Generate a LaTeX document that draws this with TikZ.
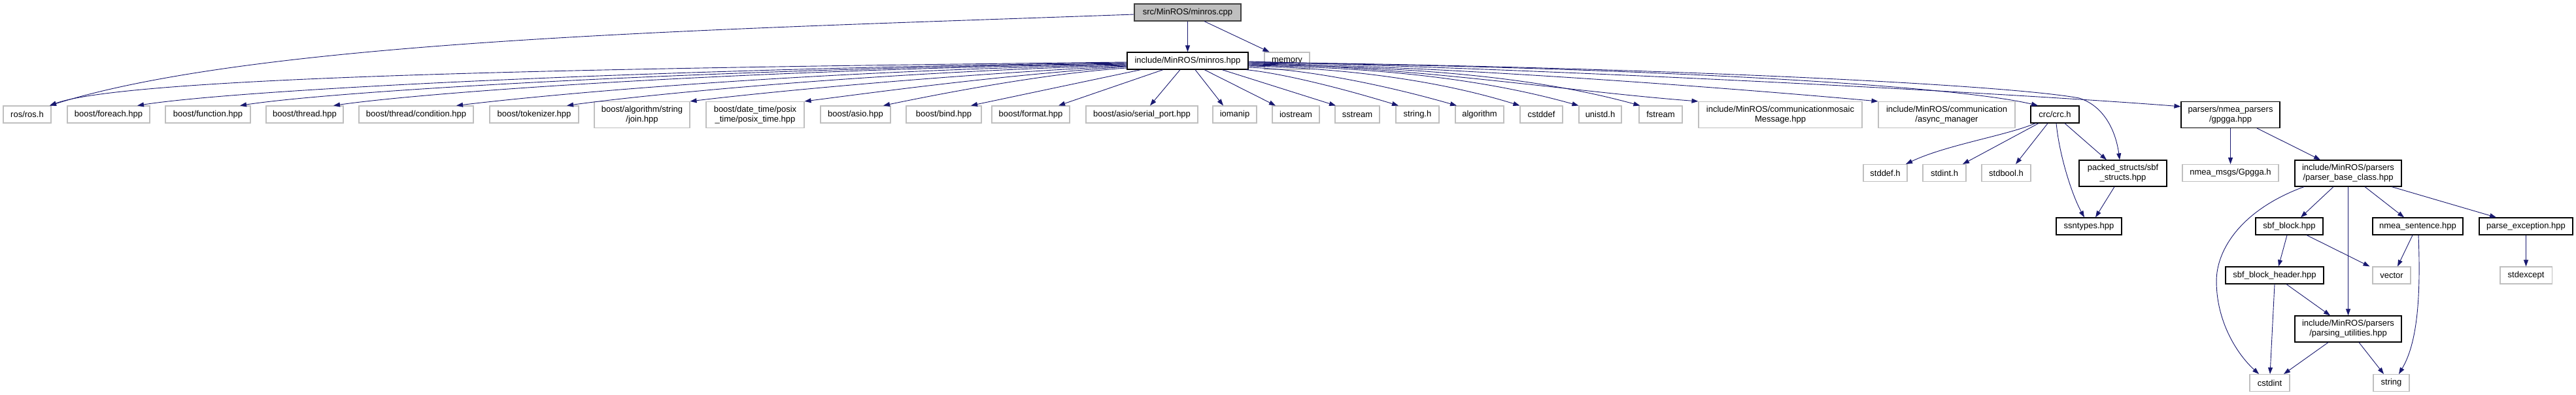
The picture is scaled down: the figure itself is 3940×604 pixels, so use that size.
\documentclass[tikz,border=0pt]{standalone}
\usepackage{fontspec}
\setmainfont{Liberation Sans}
\usetikzlibrary{arrows.meta,calc}
\definecolor{edgeblue}{HTML}{191970}
\definecolor{sysgrey}{HTML}{BFBFBF}
\definecolor{rootfill}{HTML}{BFBFBF}
\definecolor{rootline}{HTML}{404040}
\begin{document}
\begin{tikzpicture}[x=1pt,y=-1pt,
  nbox/.style={rectangle, inner sep=0pt, align=center, font=\fontsize{13}{15}\selectfont, minimum height=26pt},
  sysbox/.style={nbox, draw=sysgrey, line width=1.1pt},
  docbox/.style={nbox, draw=black, line width=1.2pt},
  rootbox/.style={nbox, draw=rootline, fill=rootfill, line width=1.2pt},
  dbl/.style={minimum height=40pt},
  edge/.style={draw=edgeblue, line width=0.9pt, -{Triangle[length=10pt,width=7pt]}}]
\fill[white] (0,0) rectangle (3940,604);
\useasboundingbox (0,0) rectangle (3940,604);
% rows 0-1
\node[rootbox, minimum width=163pt] (cpp) at (1816.5,19) {src/MinROS/minros.cpp};
\node[docbox, minimum width=185pt] (hpp) at (1816.5,93) {include/MinROS/minros.hpp};
\node[sysbox, minimum width=69pt] (memory) at (1968.5,93) {memory};
% row 2
\node[sysbox, minimum width=73pt] (ros) at (41.5,175) {ros/ros.h};
\node[sysbox, minimum width=126pt] (foreach) at (166,175) {boost/foreach.hpp};
\node[sysbox, minimum width=130pt] (function) at (318,175) {boost/function.hpp};
\node[sysbox, minimum width=118pt] (thread) at (466,175) {boost/thread.hpp};
\node[sysbox, minimum width=175pt] (condition) at (636.5,175) {boost/thread/condition.hpp};
\node[sysbox, minimum width=136pt] (tokenizer) at (817,175) {boost/tokenizer.hpp};
\node[sysbox, dbl, minimum width=146pt] (join) at (982,175.5) {boost/algorithm/string\\/join.hpp};
\node[sysbox, dbl, minimum width=150pt] (datetime) at (1155,175.5) {boost/date\_time/posix\\\_time/posix\_time.hpp};
\node[sysbox, minimum width=107pt] (asio) at (1308.5,175) {boost/asio.hpp};
\node[sysbox, minimum width=115pt] (bind) at (1443.5,175) {boost/bind.hpp};
\node[sysbox, minimum width=119pt] (format) at (1576.5,175) {boost/format.hpp};
\node[sysbox, minimum width=171pt] (serial) at (1746.5,175) {boost/asio/serial\_port.hpp};
\node[sysbox, minimum width=67pt] (iomanip) at (1888.5,175) {iomanip};
\node[sysbox, minimum width=72pt] (iostream) at (1982,175) {iostream};
\node[sysbox, minimum width=68pt] (sstream) at (2076,175) {sstream};
\node[sysbox, minimum width=66pt] (stringh) at (2168,175) {string.h};
\node[sysbox, minimum width=74pt] (algorithm) at (2263,175) {algorithm};
\node[sysbox, minimum width=65pt] (cstddef) at (2357.5,175) {cstddef};
\node[sysbox, minimum width=65pt] (unistd) at (2447.5,175) {unistd.h};
\node[sysbox, minimum width=66pt] (fstream) at (2540,175) {fstream};
\node[sysbox, dbl, minimum width=250pt] (commsg) at (2723,175.5) {include/MinROS/communicationmosaic\\Message.hpp};
\node[sysbox, dbl, minimum width=209pt] (async) at (2977.5,175.5) {include/MinROS/communication\\/async\_manager};
\node[docbox, minimum width=74pt] (crc) at (3143,175) {crc/crc.h};
\node[docbox, dbl, minimum width=151pt] (gpgga) at (3411.5,175.5) {parsers/nmea\_parsers\\/gpgga.hpp};
% row 3
\node[sysbox, minimum width=67pt] (stddef) at (2883.5,264.5) {stddef.h};
\node[sysbox, minimum width=66pt] (stdint) at (2974,264.5) {stdint.h};
\node[sysbox, minimum width=75pt] (stdbool) at (3068.5,264.5) {stdbool.h};
\node[docbox, dbl, minimum width=134pt] (packed) at (3247,265) {packed\_structs/sbf\\\_structs.hpp};
\node[sysbox, minimum width=147pt] (nmeamsgs) at (3411.5,264.5) {nmea\_msgs/Gpgga.h};
\node[docbox, dbl, minimum width=163pt] (pbc) at (3591.5,265) {include/MinROS/parsers\\/parser\_base\_class.hpp};
% row 4
\node[docbox, minimum width=100pt] (ssntypes) at (3195,346) {ssntypes.hpp};
\node[docbox, minimum width=103pt] (sbfblock) at (3501.5,346) {sbf\_block.hpp};
\node[docbox, minimum width=138pt] (nmeasent) at (3698,346) {nmea\_sentence.hpp};
\node[docbox, minimum width=143pt] (parseexc) at (3863.5,346) {parse\_exception.hpp};
% row 5
\node[docbox, minimum width=150pt] (sbfheader) at (3479,421) {sbf\_block\_header.hpp};
\node[sysbox, minimum width=58pt] (vector) at (3658,421) {vector};
\node[sysbox, minimum width=79pt] (stdexcept) at (3863.5,421) {stdexcept};
% row 6
\node[docbox, dbl, minimum width=163pt] (putil) at (3591.5,503) {include/MinROS/parsers\\/parsing\_utilities.hpp};
% row 7
\node[sysbox, minimum width=61pt] (cstdint) at (3471.5,585.5) {cstdint};
\node[sysbox, minimum width=55pt] (string) at (3657.5,585.5) {string};

% edges from cpp
\draw[edge] (cpp) -- (hpp);
\draw[edge] ($(cpp.south)+(25.5,0)$) -- ($(memory.north west)+(8,0)$);
\draw[edge] ($(cpp.west)+(0,3)$) .. controls (1100,45) and (400,60) .. ($(ros.north)+(34.5,0)$);

% edges from hpp to the left
\draw[edge] ($(hpp.west)+(0,2)$) .. controls (1000,103) and (200,115) .. ($(ros.north)+(34.5,0)$);
\draw[edge] ($(hpp.west)+(0,3)$) .. controls (1050,104) and (380,135) .. ($(foreach.north)+(44,0)$);
\draw[edge] ($(hpp.west)+(0,4)$) .. controls (1100,105) and (520,138) .. ($(function.north)+(49,0)$);
\draw[edge] ($(hpp.west)+(0,5)$) .. controls (1150,106) and (660,140) .. ($(thread.north)+(44,0)$);
\draw[edge] ($(hpp.west)+(0,6)$) .. controls (1250,108) and (860,142) .. ($(condition.north)+(61.5,0)$);
\draw[edge] ($(hpp.west)+(0,7)$) .. controls (1350,110) and (1000,143) .. ($(tokenizer.north)+(50,0)$);
\draw[edge] ($(hpp.west)+(0,8)$) .. controls (1450,114) and (1170,141) .. (join.north east);
\draw[edge] ($(hpp.west)+(0,9)$) .. controls (1520,116) and (1340,141) .. (datetime.north east);
\draw[edge] ($(hpp.west)+(0,11)$) .. controls (1600,112) and (1440,143) .. ($(asio.north)+(42.5,0)$);
% straight edges below hpp
\draw[edge] ($(hpp.south)+(-71.5,0)$) -- ($(bind.north)+(41.5,0)$);
\draw[edge] ($(hpp.south)+(-37.5,0)$) -- ($(format.north)+(42.5,0)$);
\draw[edge] ($(hpp.south)+(-11.5,0)$) -- ($(serial.north)+(12.5,0)$);
\draw[edge] ($(hpp.south)+(11.5,0)$) -- ($(iomanip.north)+(-17.5,0)$);
\draw[edge] ($(hpp.south)+(25.5,0)$) -- ($(iostream.north)+(-31,0)$);
\draw[edge] ($(hpp.south)+(52.5,0)$) -- ($(sstream.north)+(-33,0)$);
\draw[edge] ($(hpp.south east)+(-4,0)$) .. controls (1960,112) and (2049,134) .. ($(stringh.north)+(-29,0)$);
% edges from hpp to the right
\draw[edge] ($(hpp.east)+(0,10)$) .. controls (2000,106) and (2118,130) .. ($(algorithm.north)+(-35,0)$);
\draw[edge] ($(hpp.east)+(0,8)$) .. controls (2050,104) and (2194,121) .. (cstddef.north west);
\draw[edge] ($(hpp.east)+(0,7)$) .. controls (2100,103) and (2263,119) .. (unistd.north west);
\draw[edge] ($(hpp.east)+(0,6)$) .. controls (2150,102) and (2339,115) .. ($(fstream.north west)+(2,0)$);
\draw[edge] ($(hpp.east)+(0,5)$) .. controls (2150,100) and (2400,140) .. (commsg.north west);
\draw[edge] ($(hpp.east)+(0,4)$) .. controls (2200,100) and (2650,135) .. (async.north west);
\draw[edge] ($(hpp.east)+(0,3)$) .. controls (2400,100) and (2967,126) .. ($(crc.north)+(-26,0)$);
\draw[edge] ($(hpp.east)+(0,2)$) .. controls (2500,102) and (3060,128) .. (3180,150)
  .. controls (3218,162) and (3236,200) .. ($(packed.north)+(-5,0)$);
\draw[edge] ($(hpp.east)+(0,1)$) .. controls (2500,110) and (3150,148) .. ($(gpgga.north west)+(0,8)$);

% crc edges
\draw[edge] ($(crc.south)+(-30,0)$) .. controls (3070,207) and (2975,222) .. ($(stddef.north)+(31.5,0)$);
\draw[edge] ($(crc.south)+(-25,0)$) -- ($(stdint.north)+(28,0)$);
\draw[edge] ($(crc.south)+(-11,0)$) -- ($(stdbool.north)+(14.5,0)$);
\draw[edge] ($(crc.south)+(15,0)$) -- ($(packed.north)+(-25,0)$);
\draw[edge] ($(crc.south)+(2,0)$) .. controls (3150,240) and (3170,300) .. ($(ssntypes.north)+(-7,0)$);
\draw[edge] ($(packed.south)+(-13,0)$) -- ($(ssntypes.north)+(10,0)$);
% gpgga edges
\draw[edge] (gpgga) -- (nmeamsgs);
\draw[edge] ($(gpgga.south)+(40.5,0)$) -- ($(pbc.north)+(-42.5,0)$);
% parser base class edges
\draw[edge] ($(pbc.south)+(-67.5,0)$) .. controls (3430,320) and (3390,380) .. (3390,430)
  .. controls (3390,490) and (3420,540) .. ($(cstdint.north)+(-16.5,0)$);
\draw[edge] ($(pbc.south)+(-22.5,0)$) -- ($(sbfblock.north)+(17.5,0)$);
\draw[edge] (pbc) -- (putil);
\draw[edge] ($(pbc.south)+(25.5,0)$) -- ($(nmeasent.north)+(-21,0)$);
\draw[edge] ($(pbc.south)+(66.5,0)$) -- ($(parseexc.north)+(-45.5,0)$);
% lower edges
\draw[edge] ($(sbfblock.south)+(-3.5,0)$) -- ($(sbfheader.north)+(6,0)$);
\draw[edge] ($(sbfblock.south)+(26.5,0)$) -- ($(vector.north west)+(-4,0)$);
\draw[edge] ($(nmeasent.south)+(-8,0)$) -- ($(vector.north)+(9,0)$);
\draw[edge] ($(nmeasent.south)+(1,0)$) .. controls (3702,440) and (3700,520) .. ($(string.north)+(11.5,0)$);
\draw[edge] (parseexc) -- (stdexcept);
\draw[edge] (sbfheader.south) -- ($(cstdint.north)+(0.5,0)$);
\draw[edge] ($(sbfheader.south)+(18,0)$) -- ($(putil.north)+(-27.5,0)$);
\draw[edge] ($(putil.south)+(-30.5,0)$) -- ($(cstdint.north)+(21.5,0)$);
\draw[edge] ($(putil.south)+(16.5,0)$) -- ($(string.north)+(-11.5,0)$);
\end{tikzpicture}
\end{document}
